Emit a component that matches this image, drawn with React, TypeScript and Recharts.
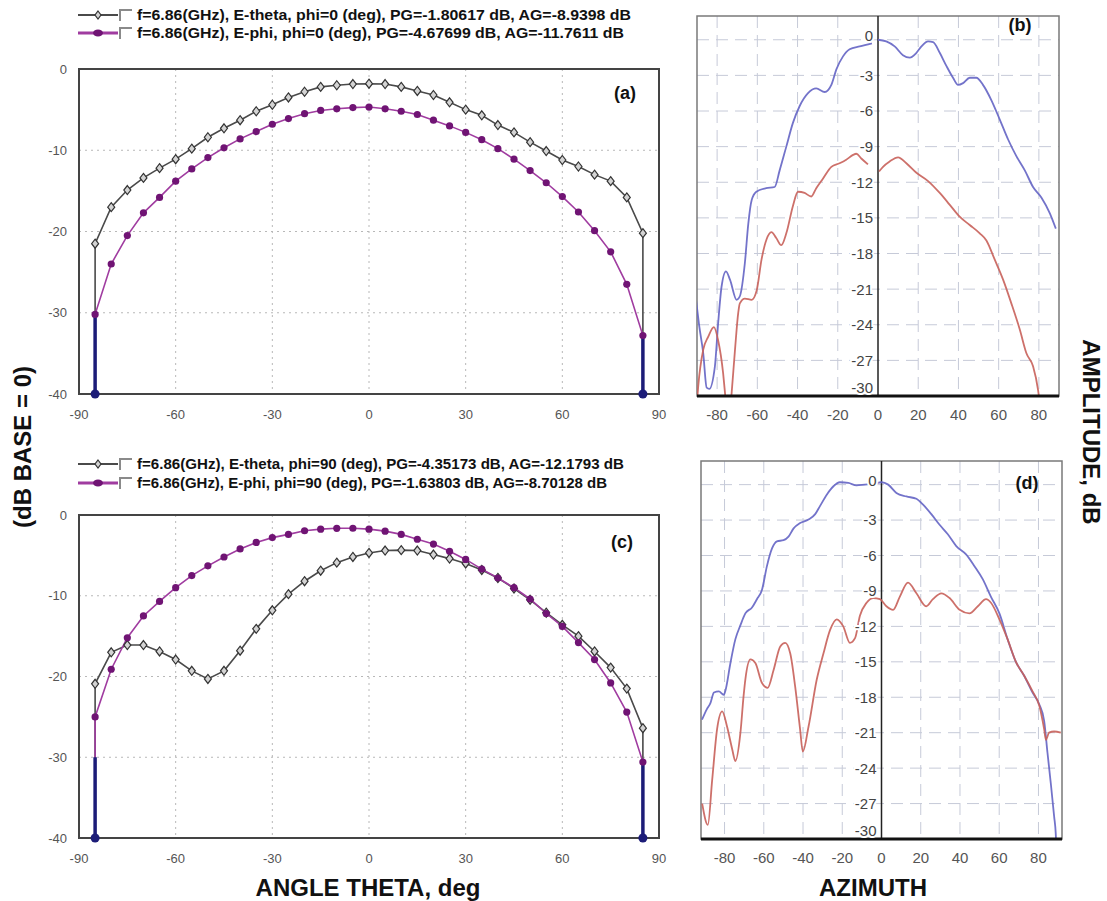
import React from 'react';
import { LineChart, Line, XAxis, YAxis, CartesianGrid, ReferenceArea, ReferenceLine, ReferenceDot } from 'recharts';

// theta sweep used by the E-theta / E-phi cuts (a) and (c)
const THETA = [-85, -80, -75, -70, -65, -60, -55, -50, -45, -40, -35, -30, -25, -20, -15, -10, -5, 0, 5, 10, 15, 20, 25, 30, 35, 40, 45, 50, 55, 60, 65, 70, 75, 80, 85];

const A_ETHETA = [-21.5, -17.0, -14.9, -13.4, -12.2, -11.1, -9.8, -8.4, -7.3, -6.3, -5.2, -4.4, -3.5, -2.8, -2.2, -2.0, -1.85, -1.81, -1.85, -2.2, -2.7, -3.2, -4.1, -5.0, -5.7, -6.9, -7.8, -9.0, -10.1, -11.2, -12.0, -13.0, -13.8, -15.8, -20.2];
const A_EPHI = [-30.2, -24.0, -20.5, -17.7, -15.8, -13.8, -12.3, -10.9, -9.7, -8.6, -7.7, -6.8, -6.1, -5.5, -5.1, -4.9, -4.75, -4.68, -4.9, -5.2, -5.6, -6.3, -7.0, -7.8, -8.7, -9.8, -11.1, -12.5, -14.0, -15.7, -17.6, -19.9, -22.5, -26.5, -32.8];
const C_ETHETA = [-20.9, -17.0, -16.1, -16.1, -16.9, -17.9, -19.3, -20.3, -19.3, -16.8, -14.1, -11.8, -9.8, -8.2, -6.9, -5.9, -5.2, -4.7, -4.4, -4.35, -4.4, -4.9, -5.4, -6.0, -6.8, -7.8, -9.1, -10.5, -12.1, -13.6, -15.0, -16.9, -18.9, -21.5, -26.4];
const C_EPHI = [-25.0, -19.1, -15.2, -12.5, -10.7, -9.0, -7.5, -6.3, -5.2, -4.2, -3.4, -2.8, -2.4, -1.95, -1.75, -1.65, -1.64, -1.75, -2.0, -2.4, -3.0, -3.6, -4.5, -5.5, -6.7, -7.8, -9.0, -10.4, -12.2, -13.8, -15.8, -17.9, -20.8, -24.4, -30.6];

const THETA_TICKS = [-90, -60, -30, 0, 30, 60, 90];
const DB_TICKS = [0, -10, -20, -30, -40];
const FLOOR = -40;
const EDGE_TOP = -30;

// measured azimuth cuts: [azimuth deg, amplitude dB]
const B_BLUE_LEFT: [number, number][] = [[-90.5, -21.9], [-88.9, -24.1], [-86.9, -26.4], [-85.2, -29.3], [-83.9, -29.4], [-81.1, -27.5], [-79.5, -23.9], [-77.8, -20.8], [-75.6, -19.5], [-73.6, -20.2], [-70.3, -21.9], [-68.7, -21.6], [-66.2, -18.8], [-64.5, -15.5], [-62.8, -13.5], [-60.5, -12.8], [-55.6, -12.5], [-51.4, -12.4], [-48.9, -11.0], [-45.6, -9.0], [-42.3, -7.0], [-39, -5.6], [-34.8, -4.5], [-30.7, -4.1], [-26.5, -4.4], [-23.2, -3.8], [-20.7, -2.5], [-17.4, -1.4], [-14.1, -0.8], [-9.1, -0.56], [-3, -0.3]];
const B_BLUE_RIGHT: [number, number][] = [[0, 0], [4.1, -0.14], [8.3, -0.56], [12.4, -1.3], [15.8, -1.5], [19.1, -1.1], [21.6, -0.56], [24.9, -0.14], [27.4, -0.2], [30.7, -1.1], [34, -2.2], [37.3, -3.2], [39.8, -3.8], [42.3, -3.65], [45.6, -3.2], [48.9, -3.2], [52.2, -3.8], [56.4, -5.1], [60.5, -6.7], [64.7, -8.4], [68.8, -9.8], [73, -11.0], [77.1, -12.4], [81.3, -13.3], [85.4, -14.6], [88.4, -15.9]];
const B_RED_LEFT: [number, number][] = [[-90, -30.5], [-89.4, -29.2], [-86.9, -26.1], [-84.4, -25.0], [-81.6, -24.2], [-79.5, -25.3], [-77, -28.1], [-76.1, -29.7], [-74.5, -33], [-72.8, -29.8], [-71.1, -26.1], [-69.5, -23.0], [-68.7, -22.2], [-66.2, -21.8], [-62.8, -21.9], [-60.3, -21.1], [-57.9, -18.5], [-55.4, -16.8], [-53, -16.2], [-50.6, -16.7], [-48.1, -17.3], [-45.6, -16.3], [-42.3, -14.0], [-39.8, -12.8], [-36.5, -12.9], [-33.2, -13.2], [-30.7, -12.5], [-27.4, -11.7], [-23.2, -10.7], [-19.1, -10.4], [-15.8, -10.1], [-12.4, -9.7], [-10.8, -9.6], [-8.3, -10.0], [-5, -10.5]];
const B_RED_RIGHT: [number, number][] = [[0.5, -11.1], [2.5, -10.7], [5.8, -10.25], [10, -9.9], [14.1, -10.4], [19.1, -11.2], [24.9, -11.9], [30.7, -12.9], [35.7, -13.9], [40.6, -14.9], [45.6, -15.6], [50.6, -16.3], [53.9, -16.9], [58, -18.5], [62.2, -20.2], [66.3, -22.2], [70.5, -24.4], [73.8, -26.4], [77.1, -27.5], [79.6, -29.5], [81, -31.5]];

const D_BLUE: [number, number][] = [[-91.5, -19.9], [-89, -19.0], [-87.2, -18.5], [-85.4, -17.6], [-82.9, -17.5], [-80.4, -17.8], [-79.5, -17.4], [-77, -15.1], [-74.5, -13.1], [-71.9, -11.9], [-69.4, -10.9], [-66, -10.4], [-63.5, -9.7], [-60.9, -8.9], [-58.4, -6.9], [-55.8, -5.4], [-53.3, -4.8], [-49.9, -4.7], [-47.4, -4.4], [-44.8, -3.7], [-41.5, -3.25], [-37.2, -2.96], [-33.8, -2.5], [-31.3, -1.8], [-27.9, -0.85], [-24.5, -0.14], [-21.2, 0.2], [-16.9, 0.14], [-12.7, -0.06], [-8.5, 0], [-4.2, 0.06], [0, 0.2], [3.4, 0], [7.6, -0.7], [12.7, -1.0], [17.8, -1.2], [21.2, -1.7], [25.4, -2.5], [29.6, -3.4], [33.8, -4.2], [38.1, -5.2], [43.1, -5.9], [47.4, -6.9], [51.6, -8.0], [55.8, -9.5], [60.1, -10.9], [64.3, -13.1], [68.5, -15.0], [72.8, -16.2], [77, -17.6], [80.4, -18.6], [82.9, -20.0], [84.6, -22.7], [86.3, -25.3], [88, -28.1], [88.8, -29.5], [89.2, -31]];
const D_RED: [number, number][] = [[-91.4, -27.0], [-88.5, -28.8], [-86.3, -25.0], [-83.8, -20.7], [-81.2, -19.2], [-78.7, -20.5], [-76.1, -22.4], [-74.5, -23.4], [-71.9, -21.0], [-70.3, -17.9], [-69.4, -16.5], [-66.8, -14.8], [-64.3, -15.1], [-60.9, -16.8], [-58, -17.2], [-55, -15.7], [-51.6, -13.7], [-49.1, -13.4], [-46.5, -14.3], [-44, -17.1], [-41.5, -20.7], [-40.1, -22.6], [-37.2, -20.5], [-33, -16.5], [-29.6, -14.3], [-26.2, -12.3], [-22.8, -11.4], [-19.5, -12.0], [-16.1, -13.4], [-13.5, -13.0], [-11, -11.1], [-7.6, -10.0], [-4.2, -9.6], [-0.8, -9.7], [2.5, -10.3], [5.9, -10.6], [9.3, -9.5], [13.5, -8.3], [17.8, -9.2], [22.8, -10.3], [26.2, -9.7], [30.5, -9.2], [34.7, -9.6], [39.8, -10.6], [44.8, -10.9], [49.1, -10.3], [53.3, -9.7], [55.8, -10.0], [60.1, -11.4], [64.3, -13.1], [68.5, -15.0], [72.8, -16.2], [77, -17.5], [80.4, -18.7], [82.9, -20.7], [83.8, -21.6], [85.4, -21.0], [88, -20.9], [91.4, -21.0]];

const AZ_TICKS = [-80, -60, -40, -20, 0, 20, 40, 60, 80];
const AZ_GRID = [-80, -60, -40, -20, 20, 40, 60, 80];
const AMP_TICKS = [0, -3, -6, -9, -12, -15, -18, -21, -24, -27, -30];
const AMP_GRID = [0, -3, -6, -9, -12, -15, -18, -21, -24, -27];

const LEGEND_A = [
  'f=6.86(GHz), E-theta, phi=0 (deg), PG=-1.80617 dB, AG=-8.9398 dB',
  'f=6.86(GHz), E-phi, phi=0 (deg), PG=-4.67699 dB, AG=-11.7611 dB',
];
const LEGEND_C = [
  'f=6.86(GHz), E-theta, phi=90 (deg), PG=-4.35173 dB, AG=-12.1793 dB',
  'f=6.86(GHz), E-phi, phi=90 (deg), PG=-1.63803 dB, AG=-8.70128 dB',
];

const FONT = '"Liberation Sans", Arial, sans-serif';
const GRAY = '#4a4a4a';
const PURPLE = '#a03ca0';
const PURPLE_DOT = '#701474';
const NAVY = '#1c1c78';
const BLUE = '#6464c4';
const RED = '#c8605a';

const toPts = (pairs: [number, number][]) => pairs.map(([x, y]) => ({ x, y }));

const cutSeries = (vals: number[]) => [
  { x: THETA[0], y: FLOOR },
  ...THETA.map((t, i) => ({ x: t, y: vals[i] })),
  { x: THETA[THETA.length - 1], y: FLOOR },
];

const edgeSeries = (vals: number[], side: 'l' | 'r') => {
  const i = side === 'l' ? 0 : vals.length - 1;
  return [
    { x: THETA[i], y: FLOOR },
    { x: THETA[i], y: Math.min(vals[i], EDGE_TOP) },
  ];
};

const Diamond = (props: any) => {
  const { cx, cy, payload, index } = props;
  if (payload.y === FLOOR) return <g key={`dm-${index}`} />;
  return (
    <path
      key={`dm-${index}`}
      d={`M${cx},${cy - 4.5}L${cx + 3.5},${cy}L${cx},${cy + 4.5}L${cx - 3.5},${cy}Z`}
      fill="#d4d4d4"
      stroke="#333"
      strokeWidth={1.2}
    />
  );
};

const PhiDot = (props: any) => {
  const { cx, cy, payload, index } = props;
  if (payload.y === FLOOR) return <g key={`pd-${index}`} />;
  return <circle key={`pd-${index}`} cx={cx} cy={cy} r={3.6} fill={PURPLE_DOT} />;
};

const EndDot = (props: any) => {
  const { cx, cy, payload, index } = props;
  if (payload.y !== FLOOR) return <g key={`ed-${index}`} />;
  return <circle key={`ed-${index}`} cx={cx} cy={cy} r={4.5} fill={NAVY} />;
};

const thetaTick = { fontSize: 13, fill: '#555', fontFamily: FONT };

const ThetaChart = ({ theta, phi, top, width, height, margin }: any) => (
  <div style={{ position: 'absolute', left: 0, top }}>
    <LineChart width={width} height={height} margin={margin}>
      <CartesianGrid stroke="#b8b8b8" strokeDasharray="2 4" verticalValues={[-60, -30, 0, 30, 60]} horizontalValues={[-10, -20, -30]} />
      <XAxis type="number" dataKey="x" domain={[-90, 90]} ticks={THETA_TICKS} height={30} tick={thetaTick} tickLine={false} axisLine={false} tickMargin={10} />
      <YAxis type="number" dataKey="y" domain={[FLOOR, 0]} ticks={DB_TICKS} width={79} tick={thetaTick} tickLine={false} axisLine={false} tickMargin={6} />
      <ReferenceArea x1={-90} x2={90} y1={FLOOR} y2={0} fill="none" stroke="#444" strokeWidth={2} />
      <Line data={cutSeries(theta)} dataKey="y" type="linear" stroke={GRAY} strokeWidth={1.6} dot={Diamond} isAnimationActive={false} />
      <Line data={cutSeries(phi)} dataKey="y" type="linear" stroke={PURPLE} strokeWidth={1.6} dot={PhiDot} isAnimationActive={false} />
      <Line data={edgeSeries(phi, 'l')} dataKey="y" type="linear" stroke={NAVY} strokeWidth={3.5} dot={EndDot} isAnimationActive={false} />
      <Line data={edgeSeries(phi, 'r')} dataKey="y" type="linear" stroke={NAVY} strokeWidth={3.5} dot={EndDot} isAnimationActive={false} />
    </LineChart>
  </div>
);

// amplitude labels sit beside the centre axis; the top and bottom ones are nudged up
const ampLabel = (v: number) => (p: any) => {
  const vb = p.viewBox || {};
  const lift = v === 0 ? -4 : v === -30 ? -8 : 0;
  return (
    <text
      x={vb.x - 5}
      y={vb.y + lift}
      dy="0.36em"
      textAnchor="end"
      fontSize={15}
      fontFamily={FONT}
      fill="#444"
      stroke="#fff"
      strokeWidth={4}
      paintOrder="stroke"
    >
      {v}
    </text>
  );
};

const AzimuthChart = ({ series, domain, left, top, width, height, margin }: any) => (
  <div style={{ position: 'absolute', left, top }}>
    <LineChart width={width} height={height} margin={margin}>
      <CartesianGrid stroke="#c6cad8" strokeDasharray="12 7" verticalValues={AZ_GRID} horizontalValues={AMP_GRID} />
      <XAxis
        type="number"
        dataKey="x"
        domain={domain}
        ticks={AZ_TICKS}
        allowDataOverflow
        height={30}
        tick={{ fontSize: 15, fill: '#555', fontFamily: FONT }}
        tickLine={false}
        axisLine={{ stroke: '#111', strokeWidth: 3 }}
        tickMargin={7}
      />
      <YAxis type="number" dataKey="y" domain={[-30, 2]} allowDataOverflow hide />
      <ReferenceArea x1={domain[0]} x2={domain[1]} y1={-30} y2={2} fill="none" stroke="#7a7a7a" strokeWidth={1.5} />
      <ReferenceLine x={0} stroke="#222" strokeWidth={1.5} />
      {series.map((s: any, i: number) => (
        <Line
          key={i}
          data={toPts(s.pts)}
          dataKey="y"
          type="monotone"
          stroke={s.color}
          strokeWidth={1.8}
          strokeOpacity={0.9}
          dot={false}
          isAnimationActive={false}
        />
      ))}
      {AMP_TICKS.map((v) => (
        <ReferenceDot key={v} x={0} y={v} r={0} fill="none" stroke="none" label={ampLabel(v)} />
      ))}
    </LineChart>
  </div>
);

const LegendRow = ({ y, kind, text, textWidth }: any) => (
  <g>
    <line x1={78} y1={y} x2={118} y2={y} stroke={kind === 'theta' ? GRAY : PURPLE} strokeWidth={kind === 'theta' ? 2 : 3} />
    {kind === 'theta' ? (
      <path d={`M98,${y - 4}L101,${y}L98,${y + 4}L95,${y}Z`} fill="#d4d4d4" stroke="#333" strokeWidth={1.2} />
    ) : (
      <ellipse cx={98} cy={y} rx={5} ry={3.5} fill={PURPLE_DOT} />
    )}
    <path d={`M120,${y + 6}L120,${y - 5}L132,${y - 5}`} fill="none" stroke="#8a8a8a" strokeWidth={2} />
    <text
      x={137}
      y={y}
      dy="0.36em"
      fontSize={14}
      fontWeight="bold"
      fontFamily={FONT}
      fill="#111"
      textLength={textWidth}
      lengthAdjust="spacingAndGlyphs"
    >
      {text}
    </text>
  </g>
);

const App = () => (
  <div style={{ position: 'absolute', left: 0, top: 0, width: 1107, height: 901, background: '#fff', fontFamily: FONT }}>
    <ThetaChart theta={A_ETHETA} phi={A_EPHI} top={0} width={680} height={430} margin={{ top: 69, right: 21, bottom: 6, left: 0 }} />
    <ThetaChart theta={C_ETHETA} phi={C_EPHI} top={440} width={680} height={440} margin={{ top: 75, right: 21, bottom: 12, left: 0 }} />
    <AzimuthChart
      series={[
        { pts: B_BLUE_LEFT, color: BLUE },
        { pts: B_BLUE_RIGHT, color: BLUE },
        { pts: B_RED_LEFT, color: RED },
        { pts: B_RED_RIGHT, color: RED },
      ]}
      domain={[-90, 90]}
      left={680}
      top={0}
      width={427}
      height={440}
      margin={{ top: 16, right: 48, bottom: 14, left: 17 }}
    />
    <AzimuthChart
      series={[
        { pts: D_BLUE, color: BLUE },
        { pts: D_RED, color: RED },
      ]}
      domain={[-92, 92]}
      left={680}
      top={440}
      width={427}
      height={461}
      margin={{ top: 21, right: 45, bottom: 32, left: 21 }}
    />
    <svg width={1107} height={901} style={{ position: 'absolute', left: 0, top: 0, pointerEvents: 'none' }}>
      <LegendRow y={15} kind="theta" text={LEGEND_A[0]} textWidth={494} />
      <LegendRow y={33} kind="phi" text={LEGEND_A[1]} textWidth={487} />
      <LegendRow y={464} kind="theta" text={LEGEND_C[0]} textWidth={487} />
      <LegendRow y={483} kind="phi" text={LEGEND_C[1]} textWidth={470} />
      <g fontFamily={FONT} fontWeight="bold" fill="#111" fontSize={18} textAnchor="middle">
        <text x={625} y={93} dy="0.36em">(a)</text>
        <text x={1020} y={25} dy="0.36em">(b)</text>
        <text x={622} y={542} dy="0.36em">(c)</text>
        <text x={1027} y={483} dy="0.36em">(d)</text>
      </g>
      <g fontFamily={FONT} fontWeight="bold" fill="#111" textAnchor="middle">
        <text x={22} y={447} dy="0.36em" fontSize={24} transform="rotate(-90 22 447)">(dB BASE = 0)</text>
        <text x={1092} y={432} dy="0.36em" fontSize={24} transform="rotate(90 1092 432)">AMPLITUDE, dB</text>
        <text x={368} y={887} dy="0.36em" fontSize={24}>ANGLE THETA, deg</text>
        <text x={873} y={887} dy="0.36em" fontSize={24}>AZIMUTH</text>
      </g>
    </svg>
  </div>
);

export default App;
